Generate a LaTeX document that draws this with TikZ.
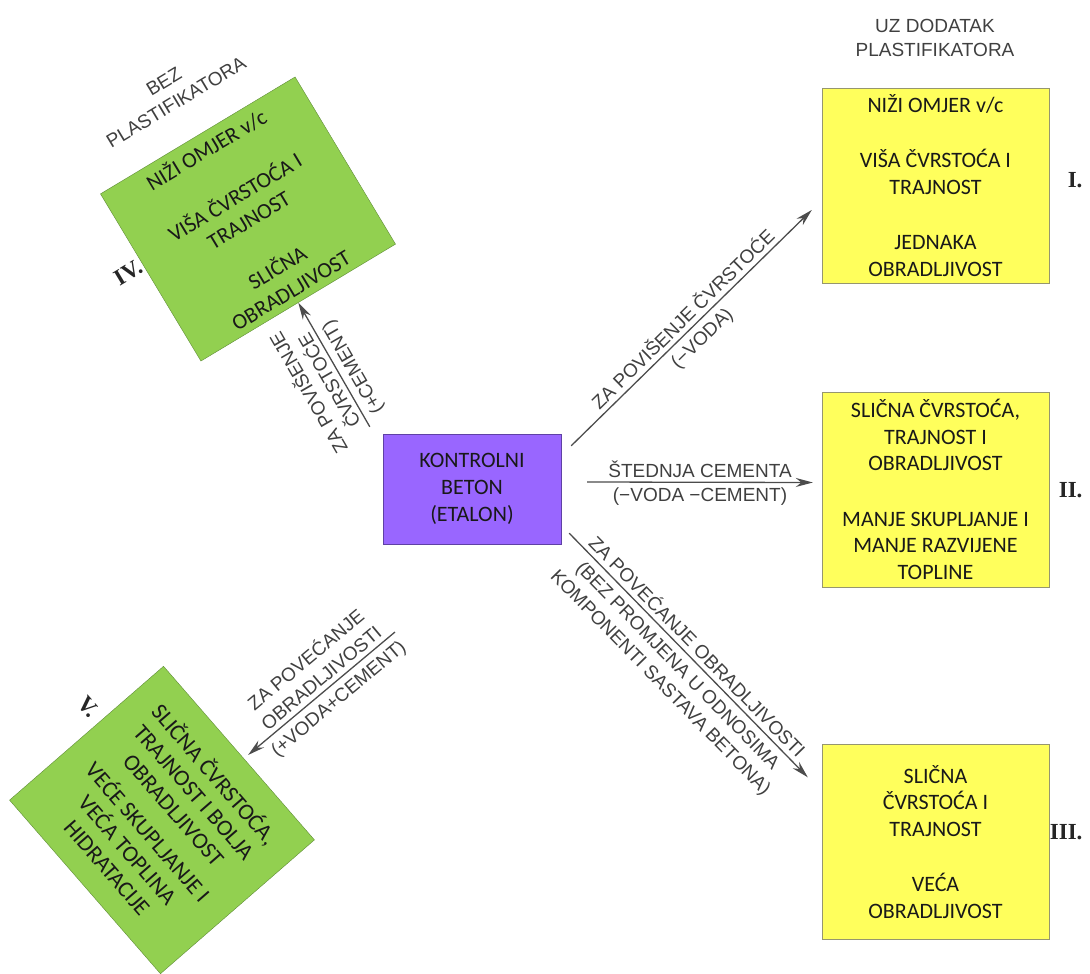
\documentclass[tikz,border=0pt]{standalone}
\usepackage{fontspec}
\usepackage{tikz}
\usetikzlibrary{arrows.meta,shapes}
\newfontfamily\boxfont{Carlito}
\newfontfamily\lblfont{Liberation Sans}
\newfontfamily\numfont{Liberation Serif}
\definecolor{zuta}{RGB}{255,255,92}
\definecolor{zutarub}{RGB}{150,150,110}
\definecolor{zelena}{RGB}{146,208,80}
\definecolor{zelenarub}{RGB}{95,140,55}
\definecolor{ljub}{RGB}{153,102,255}
\definecolor{ljubrub}{RGB}{95,65,165}

\begin{document}
\begin{tikzpicture}[
  box/.style={draw, minimum width=227bp, minimum height=195bp, inner sep=0pt, align=center, text=black!90, font=\boxfont\fontsize{22bp}{26.5bp}\selectfont},
  yellowbox/.style={box, fill=zuta, draw=zutarub},
  greenbox/.style={box, fill=zelena, draw=zelenarub},
  lbl/.style={text=black!75, align=center, inner sep=2.5bp, font=\lblfont\fontsize{19bp}{24bp}\selectfont},
  num/.style={text=black!85, font=\numfont\bfseries\fontsize{23bp}{23bp}\selectfont},
  arr/.style={-{Stealth[length=17bp,width=9bp]}, line width=1.3bp, draw=black!70}
]
\useasboundingbox (0bp,0bp) rectangle (1090bp,-974bp);

\node (K) at (472bp,-489bp)[draw=ljubrub, fill=ljub, minimum width=178bp, minimum height=110bp, inner sep=0pt, align=center, text=black!90, font=\boxfont\fontsize{22bp}{27bp}\selectfont] {KONTROLNI\\BETON\\(ETALON)};

\node (I) at (935.5bp,-185.5bp)[yellowbox] {NIŽI OMJER v/c\\[29bp]VIŠA ČVRSTOĆA I\\TRAJNOST\\[29bp]JEDNAKA\\OBRADLJIVOST};
\node (II) at (935.5bp,-489.5bp)[yellowbox] {SLIČNA ČVRSTOĆA,\\TRAJNOST I\\OBRADLJIVOST\\[29bp]MANJE SKUPLJANJE I\\MANJE RAZVIJENE\\TOPLINE};
\node (III) at (935.5bp,-842bp)[yellowbox] {SLIČNA\\ČVRSTOĆA I\\TRAJNOST\\[29bp]VEĆA\\OBRADLJIVOST};
\node (IV) at (248bp,-219bp)[greenbox, rotate=31] {NIŽI OMJER v/c\\[29bp]VIŠA ČVRSTOĆA I\\TRAJNOST\\[29bp]SLIČNA\\OBRADLJIVOST};
\node (V) at (162bp,-820bp)[greenbox, rotate=-49, minimum width=230bp, minimum height=204bp, font=\boxfont\fontsize{23bp}{27bp}\selectfont] {SLIČNA ČVRSTOĆA,\\TRAJNOST I BOLJA\\OBRADLJIVOST\\[7bp]VEĆE SKUPLJANJE I\\VEĆA TOPLINA\\HIDRATACIJE};

% naslovi
\node (uz) at (935bp,-38bp)[lbl] {UZ DODATAK\\PLASTIFIKATORA};
\node (bez) at (170bp,-92bp)[lbl, rotate=31] {BEZ\\PLASTIFIKATORA};

\node (nI) at (1086bp,-180bp)[num, anchor=east] {I.};
\node (nII) at (1086bp,-490bp)[num, anchor=east] {II.};
\node (nIII) at (1086bp,-832bp)[num, anchor=east] {III.};
\node (nIV) at (128bp,-273bp)[num, rotate=31] {IV.};
\node (nV) at (88bp,-707bp)[num, rotate=-49] {V.};

% strelice
\draw [arr] ([shift={(10bp,-12bp)}]K.north east) -- node[lbl,sloped,above=2bp] {ZA POVIŠENJE ČVRSTOĆE} node[lbl,sloped,below=4bp] {(−VODA)} ([shift={(-10bp,-24.5bp)}]I.west);
\draw [arr] ([shift={(26bp,7bp)}]K.east) -- node[lbl,above=1bp] {ŠTEDNJA CEMENTA} node[lbl,below=2bp] {(−VODA −CEMENT)} ([shift={(-9bp,7bp)}]II.west);
\draw [arr] ([shift={(8bp,11bp)}]K.south east) -- node[lbl,sloped,above=2bp] {ZA POVEĆANJE OBRADLJIVOSTI} node[lbl,sloped,below=4bp] {(BEZ PROMJENA U ODNOSIMA\\KOMPONENTI SASTAVA BETONA)} ([shift={(-14bp,-33bp)}]III.north west);
\draw [arr] ([shift={(-13bp,7bp)}]K.north west) -- node[lbl,sloped,allow upside down,above=2bp,pos=.42] {ZA POVIŠENJE\\ČVRSTOĆE} node[lbl,sloped,allow upside down,below=4bp,pos=.42] {(+CEMENT)} (IV.south);
\coordinate (v0) at (395bp,-632bp);
\draw [arr] (v0) -- node[lbl,sloped,above=2bp,pos=.45] {ZA POVEĆANJE\\OBRADLJIVOSTI} node[lbl,sloped,below=4bp,pos=.45] {(+VODA+CEMENT)} ([shift={(9bp,-2bp)}]V.north);
\end{tikzpicture}
\end{document}
